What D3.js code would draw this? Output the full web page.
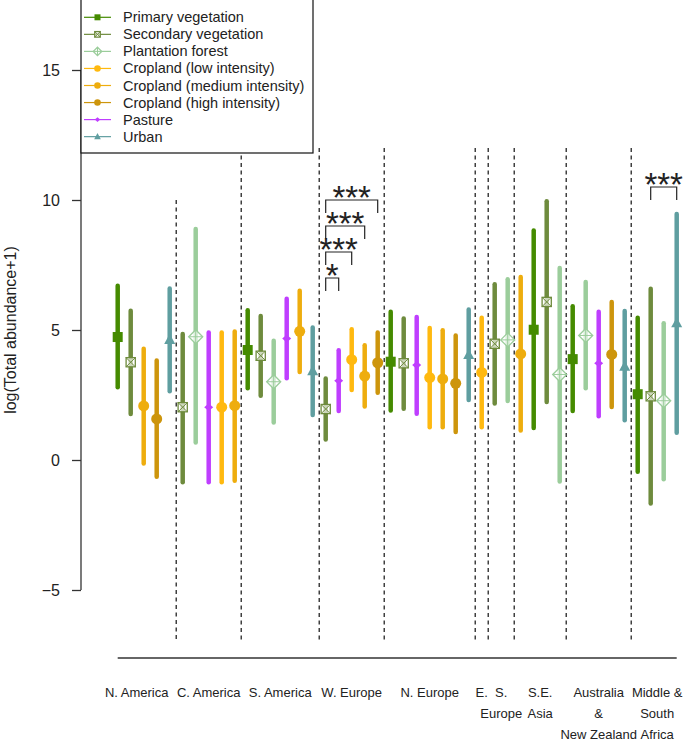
<!DOCTYPE html>
<html>
<head>
<meta charset="utf-8">
<script src="https://cdn.jsdelivr.net/npm/d3@7"></script>
<style>
  body { margin: 0; background: #fff; }
  svg { display: block; font-family: "Liberation Sans", Arial, Helvetica, sans-serif; }
</style>
</head>
<body>
<div id="chart"></div>
<script>
// land-use classes, legend order
const landUses = ["Primary vegetation", "Secondary vegetation", "Plantation forest",
    "Cropland (low intensity)", "Cropland (medium intensity)", "Cropland (high intensity)",
    "Pasture", "Urban"];
const useColors = ["#458B00", "#6E8B3D", "#9BCD9B", "#FFB90F", "#EEAD0E", "#CD950C", "#BF3EFF", "#5F9EA0"];
const useShapes = ["square", "squareX", "diamondPlus", "circle", "circle", "circle", "smallDiamond", "triangle"];

// regions, and their axis labels (one entry per text line)
const regions = ["N. America", "C. America", "S. America", "W. Europe", "N. Europe",
    "E. Europe", "S. Europe", "S.E. Asia", "Australia & New Zealand", "Middle & South Africa"];
const regionLabels = [["N. America"], ["C. America"], ["S. America"], ["W. Europe"], ["N. Europe"],
    ["E."], ["S.", "Europe"], ["S.E.", "Asia"], ["Australia", "&", "New Zealand"], ["Middle &", "South", "Africa"]];

// one entry per estimate, left to right
const pointRegion = [0, 0, 0, 0, 0,
    1, 1, 1, 1, 1,
    2, 2, 2, 2, 2, 2,
    3, 3, 3, 3, 3,
    4, 4, 4, 4, 4, 4, 4,
    5,
    6, 6,
    7, 7, 7, 7,
    8, 8, 8, 8, 8,
    9, 9, 9, 9];
const pointUse = [0, 1, 4, 5, 7,
    1, 2, 6, 3, 4,
    0, 1, 2, 6, 4, 7,
    1, 6, 3, 4, 5,
    0, 1, 6, 3, 4, 5, 7,
    3,
    1, 2,
    4, 0, 1, 2,
    0, 2, 6, 5, 7,
    0, 1, 2, 7];
const estimate = [4.73, 3.76, 2.08, 1.58, 4.62,
    2.03, 4.74, 2.03, 2.03, 2.09,
    4.23, 4.01, 3.01, 4.67, 4.95, 3.42,
    1.96, 3.05, 3.86, 3.23, 3.74,
    3.78, 3.72, 3.65, 3.17, 3.12, 2.95, 4.04,
    3.37,
    4.47, 4.62,
    4.08, 5.01, 6.08, 3.29,
    3.88, 4.79, 3.72, 4.06, 3.59,
    2.53, 2.45, 2.28, 5.26];
const lower = [2.80, 1.77, -0.13, -0.64, 2.64,
    -0.86, 0.67, -0.86, -0.86, -0.80,
    2.76, 2.47, 1.44, 3.14, 3.38, 1.73,
    0.79, 1.88, 2.69, 2.06, 2.59,
    1.90, 1.97, 1.78, 1.26, 1.26, 1.08, 2.31,
    1.26,
    2.17, 2.27,
    1.13, 1.23, 2.23, -0.83,
    1.88, 2.76, 1.68, 2.04, 1.53,
    -0.45, -1.67, -0.74, 1.05];
const upper = [6.70, 5.74, 4.28, 3.83, 6.60,
    4.85, 8.88, 4.90, 4.90, 4.94,
    5.76, 5.54, 4.59, 6.20, 6.51, 5.10,
    3.13, 4.22, 5.03, 4.41, 4.90,
    5.70, 5.44, 5.50, 5.08, 4.99, 4.79, 5.79,
    5.47,
    6.76, 6.95,
    7.04, 8.83, 9.95, 7.38,
    5.91, 6.85, 5.70, 6.08, 5.73,
    5.47, 6.59, 5.26, 9.46];

// significance brackets: from point, to point, bracket height, stars
const sigFrom = [16, 16, 16, 16, 41];
const sigTo = [17, 18, 19, 20, 43];
const sigLevel = [7, 8, 9, 10, 10.5];
const sigText = ["*", "***", "***", "***", "***"];

const yTicks = [-5, 0, 5, 10, 15];

const width = 685, height = 740;
const svg = d3.select("#chart").append("svg")
    .attr("width", width).attr("height", height);

const x = d3.scaleLinear().domain([0, estimate.length - 1]).range([117.7, 676.7]);
const y = d3.scaleLinear().domain([-5, 15]).range([590, 70]);
const step = x(1) - x(0);

// region separators
const bounds = [];
for (let i = 1; i < pointRegion.length; i++) {
    if (pointRegion[i] !== pointRegion[i - 1]) bounds.push(i - 0.5);
}
svg.append("g").selectAll("line").data(bounds).join("line")
    .attr("x1", d => x(d)).attr("x2", d => x(d))
    .attr("y1", (d, i) => i === 0 ? y(10) : y(12))
    .attr("y2", y(-6.9))
    .attr("stroke", "#111").attr("stroke-width", 1.2)
    .attr("stroke-dasharray", "4,3.5");

// y axis
const yAxis = svg.append("g").attr("transform", "translate(81,0)")
    .call(d3.axisLeft(y).tickValues(yTicks).tickSize(9).tickPadding(12)
        .tickFormat(d => d < 0 ? "\u2212" + Math.abs(d) : d));
yAxis.select(".domain").attr("stroke", "#333").attr("stroke-width", 1.3).attr("d", "M0," + y(15) + "V" + y(-5));
yAxis.selectAll(".tick line").attr("stroke", "#333").attr("stroke-width", 1.3);
yAxis.selectAll(".tick text").attr("font-size", 16).attr("fill", "#222")
    .attr("font-family", "'Liberation Sans', Arial, sans-serif");

svg.append("text")
    .attr("transform", "translate(16," + y(5) + ") rotate(-90)")
    .attr("text-anchor", "middle")
    .attr("font-size", 16).attr("fill", "#222")
    .text("log(Total abundance+1)");

// bottom axis line (no ticks)
svg.append("line")
    .attr("x1", x(0)).attr("x2", x(estimate.length - 1))
    .attr("y1", 658).attr("y2", 658)
    .attr("stroke", "#333").attr("stroke-width", 1.5);

// region labels (N. America sits a little left of its centre in the original)
const lab = svg.append("g").attr("font-size", 13).attr("fill", "#222").attr("text-anchor", "middle");
regions.forEach((r, ri) => {
    const idx = pointRegion.map((p, i) => p === ri ? i : -1).filter(i => i >= 0);
    const cx = x((idx[0] + idx[idx.length - 1]) / 2) + (ri === 0 ? -7 : 0);
    regionLabels[ri].forEach((line, li) => {
        lab.append("text").attr("x", cx).attr("y", 696.5 + li * 21).text(line);
    });
});

// error bars
const points = estimate.map((e, i) => ({ i: i, use: pointUse[i], est: e, lo: lower[i], hi: upper[i] }));
svg.append("g").selectAll("line").data(points).join("line")
    .attr("x1", d => x(d.i)).attr("x2", d => x(d.i))
    .attr("y1", d => y(d.lo)).attr("y2", d => y(d.hi))
    .attr("stroke", d => useColors[d.use])
    .attr("stroke-width", 4.5).attr("stroke-linecap", "round");

function drawMarker(g, shape, color, s) {
    // s = scale factor (1 for plot, smaller in legend)
    if (shape === "square") {
        g.append("rect").attr("x", -5 * s).attr("y", -5 * s).attr("width", 10 * s).attr("height", 10 * s)
            .attr("fill", color);
    } else if (shape === "squareX") {
        const h = 4.6 * s;
        g.append("rect").attr("x", -h).attr("y", -h).attr("width", 2 * h).attr("height", 2 * h)
            .attr("fill", "rgba(255,255,255,0.65)").attr("stroke", color).attr("stroke-width", 1.3);
        g.append("path").attr("d", `M${-h},${-h}L${h},${h}M${-h},${h}L${h},${-h}`)
            .attr("stroke", color).attr("stroke-width", 1);
    } else if (shape === "diamondPlus") {
        const h = 7 * s;
        g.append("path").attr("d", `M0,${-h}L${h},0L0,${h}L${-h},0Z`)
            .attr("fill", "rgba(255,255,255,0.65)").attr("stroke", color).attr("stroke-width", 1.3);
        g.append("path").attr("d", `M0,${-h}V${h}M${-h},0H${h}`)
            .attr("stroke", color).attr("stroke-width", 1);
    } else if (shape === "circle") {
        g.append("circle").attr("r", 5.5 * s).attr("fill", color);
    } else if (shape === "smallDiamond") {
        const h = 4.5 * s;
        g.append("path").attr("d", `M0,${-h * 0.85}L${h},0L0,${h * 0.85}L${-h},0Z`).attr("fill", color);
    } else if (shape === "triangle") {
        const h = 5.5 * s;
        g.append("path").attr("d", `M0,${-h * 1.1}L${h},${h * 0.75}L${-h},${h * 0.75}Z`).attr("fill", color);
    }
}

const marks = svg.append("g");
points.forEach(d => {
    const g = marks.append("g").attr("transform", `translate(${x(d.i)},${y(d.est)})`);
    drawMarker(g, useShapes[d.use], useColors[d.use], 1);
});

// significance brackets
const sig = svg.append("g");
sigFrom.forEach((f, k) => {
    const x1 = x(f), x2 = x(sigTo[k]), yt = y(sigLevel[k]);
    sig.append("path")
        .attr("d", `M${x1},${yt + step}V${yt}H${x2}V${yt + step}`)
        .attr("fill", "none").attr("stroke", "#222").attr("stroke-width", 1.2);
    sig.append("text")
        .attr("x", (x1 + x2) / 2).attr("y", yt + 9)
        .attr("text-anchor", "middle").attr("font-size", 33).attr("fill", "#222")
        .text(sigText[k]);
});

// legend
const leg = svg.append("g");
leg.append("rect").attr("x", 81).attr("y", -1).attr("width", 232).attr("height", 154)
    .attr("fill", "#fff").attr("stroke", "#111").attr("stroke-width", 1.2);
landUses.forEach((name, i) => {
    const ly = 17.3 + i * 17.05;
    leg.append("line").attr("x1", 84).attr("x2", 111).attr("y1", ly).attr("y2", ly)
        .attr("stroke", useColors[i]).attr("stroke-width", 1.2);
    const g = leg.append("g").attr("transform", `translate(97.5,${ly})`);
    drawMarker(g, useShapes[i], useColors[i], 0.6);
    leg.append("text").attr("x", 123).attr("y", ly + 5).attr("font-size", 14.5).attr("fill", "#222")
        .text(name);
});
</script>
</body>
</html>
